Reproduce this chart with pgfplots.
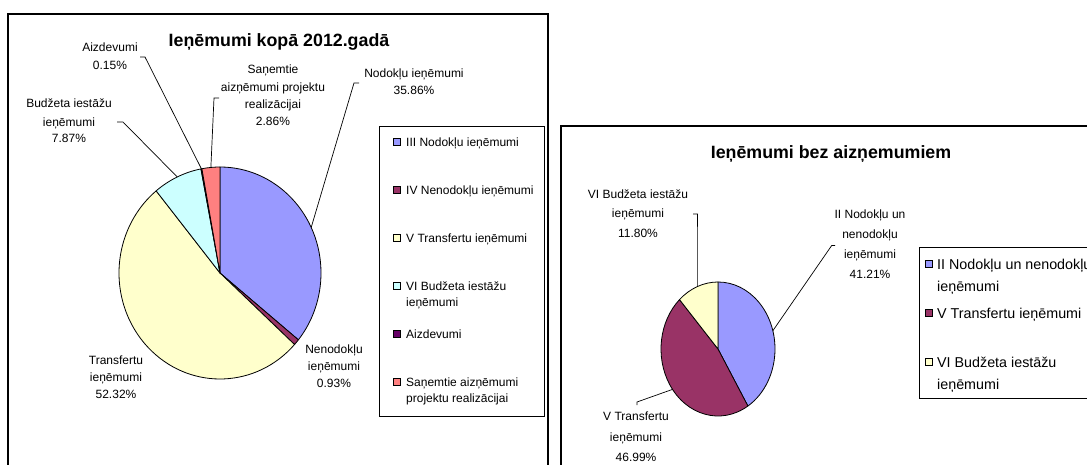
\documentclass[border=0pt]{standalone}
\usepackage{pgfplots}
\pgfplotsset{compat=1.18}
\usepackage{pgfplotstable}
\usepackage{fontspec}
\setmainfont{Liberation Sans}

\definecolor{cA0}{HTML}{9999FF}
\definecolor{cA1}{HTML}{993366}
\definecolor{cA2}{HTML}{FFFFCC}
\definecolor{cA3}{HTML}{CCFFFF}
\definecolor{cA4}{HTML}{660066}
\definecolor{cA5}{HTML}{FF8080}
\definecolor{cB0}{HTML}{9999FF}
\definecolor{cB1}{HTML}{993366}
\definecolor{cB2}{HTML}{FFFFCC}

% Ieņēmumi kopā 2012.gadā (percent)
\pgfplotstableread{
val
35.86
0.93
52.32
7.87
0.15
2.86
}\pieA
% Ieņēmumi bez aizņemumiem (percent)
\pgfplotstableread{
val
41.21
46.99
11.80
}\pieB

\newcommand\defangles[2]{%
  \gdef\curang{90}%
  \pgfplotstableforeachcolumnelement{val}\of#1\as\v{%
    \pgfmathsetmacro\nextang{\curang-\v*3.6}%
    \pgfmathsetmacro\midang{\curang-\v*1.8}%
    \expandafter\xdef\csname #2s\pgfplotstablerow\endcsname{\curang}%
    \expandafter\xdef\csname #2e\pgfplotstablerow\endcsname{\nextang}%
    \expandafter\xdef\csname #2m\pgfplotstablerow\endcsname{\midang}%
    \xdef\curang{\nextang}%
  }%
}
\defangles\pieA{A}%
\defangles\pieB{B}%

% #1 prefix, #2 index, #3 cx, #4 cy, #5 rx, #6 ry
\newcommand\pieslice[6]{%
  \filldraw[fill=c#1#2, draw=black, line width=0.8pt, line join=round]
    (axis cs:#3,#4) --
    (axis cs:{#3+#5*cos(\csname #1s#2\endcsname)},{#4+#6*sin(\csname #1s#2\endcsname)})
    arc[start angle=\csname #1s#2\endcsname, end angle=\csname #1e#2\endcsname,
        x radius=#5pt, y radius=#6pt] -- cycle;
}
\newcommand\rim[6]{%
  \path (axis cs:{#3+#5*cos(\csname #1m#2\endcsname)},{#4+#6*sin(\csname #1m#2\endcsname)}) coordinate (r#1#2);
}
% legend square: colour, x centre, y centre
\newcommand\legsq[3]{%
  \filldraw[fill=#1, draw=black, line width=0.6pt] (axis cs:#2-3.5,#3-3.5) rectangle (axis cs:#2+3.5,#3+3.5);
}

\tikzset{
  lab/.style={font=\fontsize{12}{14}\selectfont, inner sep=0pt, text height=8.6pt, text depth=0pt, anchor=center},
  leg/.style={font=\fontsize{12}{14}\selectfont, inner sep=0pt, text height=8.6pt, text depth=0pt, anchor=west},
  legB/.style={font=\fontsize{14.3}{16}\selectfont, inner sep=0pt, text height=10.2pt, text depth=0pt, anchor=west},
  ttl/.style={font=\fontsize{17.8}{20}\selectfont\bfseries, inner sep=0pt, text height=12.7pt, text depth=0pt, anchor=center},
  ldr/.style={draw=black, line width=0.7pt},
}

\begin{document}
\begin{tikzpicture}
\useasboundingbox (0,0) rectangle (1087pt,464pt);
\begin{axis}[
  at={(0pt,0pt)}, anchor=south west,
  scale only axis, width=1087pt, height=464pt,
  xmin=0, xmax=1087, ymin=0, ymax=464,
  enlargelimits=false, hide axis, clip=true,
]
% ---------- frames ----------
\draw[black, line width=1.3pt] (axis cs:8,-20) rectangle (axis cs:548,450);
\draw[black, line width=1.3pt] (axis cs:561,-20) rectangle (axis cs:1110,338);

% ---------- left pie ----------
\pgfplotsinvokeforeach{0,...,5}{\pieslice{A}{#1}{220}{191}{101}{106}}
\pgfplotsinvokeforeach{0,...,5}{\rim{A}{#1}{220}{191}{101}{106}}
\node[ttl] at (axis cs:279,424) {Ieņēmumi kopā 2012.gadā};

\draw[ldr] (axis cs:140,407) -- (axis cs:145,407) -- (rA4);
\draw[ldr] (axis cs:117,342) -- (axis cs:123,342) -- (rA3);
\draw[ldr] (axis cs:219,366) -- (axis cs:214,366) -- (rA5);
\draw[ldr] (axis cs:359,381) -- (axis cs:354,381) -- (rA0);

\node[lab] at (axis cs:110,417) {Aizdevumi};
\node[lab] at (axis cs:110,399) {0.15\%};
\node[lab] at (axis cs:69,361) {Budžeta iestāžu};
\node[lab] at (axis cs:69,342) {ieņēmumi};
\node[lab] at (axis cs:69,326) {7.87\%};
\node[lab] at (axis cs:273,395) {Saņemtie};
\node[lab] at (axis cs:273,377) {aizņēmumi projektu};
\node[lab] at (axis cs:273,360) {realizācijai};
\node[lab] at (axis cs:273,343) {2.86\%};
\node[lab] at (axis cs:414,391) {Nodokļu ieņēmumi};
\node[lab] at (axis cs:414,374) {35.86\%};
\node[lab] at (axis cs:334,115) {Nenodokļu};
\node[lab] at (axis cs:334,98) {ieņēmumi};
\node[lab] at (axis cs:334,81) {0.93\%};
\node[lab] at (axis cs:116,104) {Transfertu};
\node[lab] at (axis cs:116,87) {ieņēmumi};
\node[lab] at (axis cs:116,70) {52.32\%};

% legend left
\draw[black, line width=0.9pt, fill=white] (axis cs:379,48) rectangle (axis cs:544,338);
\legsq{cA0}{397}{322}
\legsq{cA1}{397}{274}
\legsq{cA2}{397}{226}
\legsq{cA3}{397}{178}
\legsq{cA4}{397}{130}
\legsq{cA5}{397}{82}
\node[leg] at (axis cs:406,322) {III Nodokļu ieņēmumi};
\node[leg] at (axis cs:406,274) {IV Nenodokļu ieņēmumi};
\node[leg] at (axis cs:406,226) {V Transfertu ieņēmumi};
\node[leg] at (axis cs:406,178) {VI Budžeta iestāžu};
\node[leg] at (axis cs:406,162) {ieņēmumi};
\node[leg] at (axis cs:406,130) {Aizdevumi};
\node[leg] at (axis cs:406,82) {Saņemtie aizņēmumi};
\node[leg] at (axis cs:406,66) {projektu realizācijai};

% ---------- right pie ----------
\pgfplotsinvokeforeach{0,...,2}{\pieslice{B}{#1}{718}{115}{57}{67}}
\pgfplotsinvokeforeach{0,...,2}{\rim{B}{#1}{718}{115}{57}{67}}
\node[ttl] at (axis cs:831,312) {Ieņēmumi bez aizņemumiem};

\draw[ldr] (axis cs:693,250) -- (axis cs:697.4,250) -- (rB2);
\draw[ldr] (axis cs:835,218.5) -- (axis cs:831.7,218.5) -- (rB0);
\draw[ldr] (rB1) -- (axis cs:637,62) -- (axis cs:637,59);

\node[lab] at (axis cs:638,270) {VI Budžeta iestāžu};
\node[lab] at (axis cs:638,251) {ieņēmumi};
\node[lab] at (axis cs:638,231) {11.80\%};
\node[lab] at (axis cs:870,250) {II Nodokļu un};
\node[lab] at (axis cs:870,230) {nenodokļu};
\node[lab] at (axis cs:870,210) {ieņēmumi};
\node[lab] at (axis cs:870,190) {41.21\%};
\node[lab] at (axis cs:636,48) {V Transfertu};
\node[lab] at (axis cs:636,27) {ieņēmumi};
\node[lab] at (axis cs:636,7) {46.99\%};

% legend right
\draw[black, line width=0.9pt, fill=white] (axis cs:919,66) rectangle (axis cs:1110,216.3);
\legsq{cB0}{928.8}{200}
\legsq{cB1}{928.8}{151}
\legsq{cB2}{928.8}{102}
\node[legB] at (axis cs:937,200) {II Nodokļu un nenodokļu};
\node[legB] at (axis cs:937,178) {ieņēmumi};
\node[legB] at (axis cs:937,151) {V Transfertu ieņēmumi};
\node[legB] at (axis cs:937,102) {VI Budžeta iestāžu};
\node[legB] at (axis cs:937,80) {ieņēmumi};
\end{axis}
\end{tikzpicture}
\end{document}
